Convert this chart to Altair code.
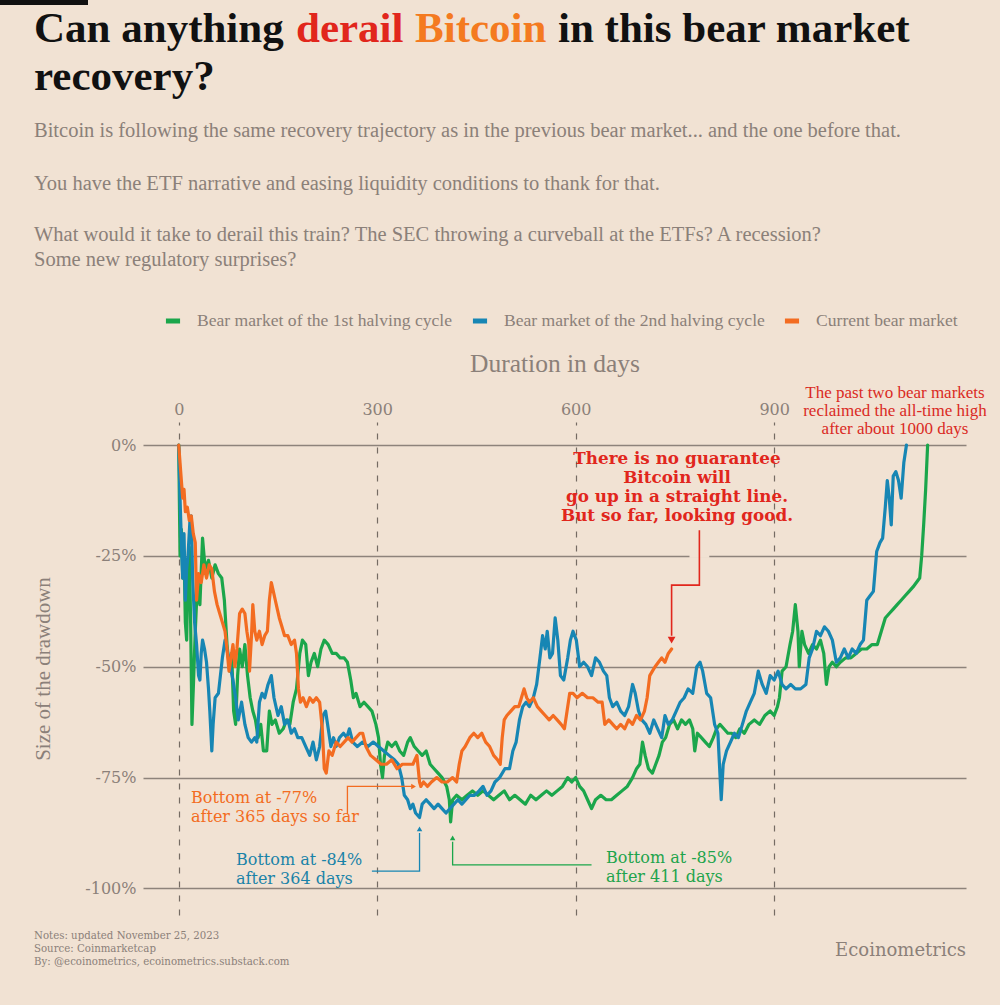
import altair as alt
import pandas as pd

# ---------------- data (days since the all-time high, drawdown in %) ----------------
series_names = [
    "Bear market of the 1st halving cycle",
    "Bear market of the 2nd halving cycle",
    "Current bear market",
]
series_colors = ["#1BA64B", "#1786B4", "#F36C21"]

green = [(0,0),(2,-25),(4,-19),(6,-30),(8,-24),(10,-40),(12,-44),(14,-28),(16,-23),(18,-40),(20,-63),(22,-55),(25,-42),(28,-32),(32,-36),(36,-21),(40,-28),(45,-26),(50,-30),(55,-27),(60,-29),(65,-30),(69,-35),(73,-45),(77,-51),(80,-47),(83,-60),(86,-63),(89,-52),(92,-46),(96,-50),(100,-45),(104,-52),(108,-57),(112,-60),(116,-62),(120,-66),(124,-63),(128,-69),(133,-69),(137,-60),(141,-63),(146,-62),(152,-65),(158,-64),(163,-62),(168,-63),(173,-58),(178,-55),(183,-47),(187,-44),(192,-45),(196,-52),(200,-49),(205,-47),(210,-50),(215,-46),(220,-44),(226,-45),(232,-47),(238,-47),(244,-48),(250,-48),(255,-49),(260,-53),(264,-57),(268,-56),(274,-59),(280,-58),(286,-59),(292,-60),(298,-63),(302,-66),(305,-72),(308,-75),(311,-70),(316,-67),(322,-68),(328,-67),(334,-69),(340,-70),(346,-67),(350,-66),(356,-68),(362,-69),(368,-70),(374,-69),(380,-72),(386,-73),(392,-74),(398,-75),(405,-77),(409,-80),(411,-85),(414,-80),(420,-79),(428,-80),(436,-79),(444,-78),(452,-79),(460,-78),(468,-79),(476,-80),(484,-79),(492,-78),(500,-80),(508,-79),(516,-80),(524,-81),(532,-79),(540,-80),(548,-79),(556,-78),(564,-79),(572,-78),(580,-77),(588,-75),(594,-76),(600,-75),(606,-77),(612,-78),(618,-80),(624,-82),(630,-80),(638,-79),(646,-80),(654,-80),(662,-79),(670,-78),(678,-77),(686,-75),(692,-73),(697,-72),(701,-67),(705,-70),(710,-73),(716,-74),(721,-72),(726,-70),(731,-67),(736,-66),(742,-63),(748,-62),(754,-64),(760,-62),(766,-63),(772,-62),(777,-64),(780,-69),(784,-65),(790,-66),(796,-67),(802,-68),(808,-66),(813,-64),(818,-63),(824,-64),(830,-65),(836,-65),(842,-66),(848,-64),(855,-65),(862,-63),(870,-62),(878,-63),(886,-61),(894,-60),(900,-61),(905,-59),(908,-57),(912,-51),(918,-50),(924,-45),(928,-42),(932,-36),(936,-42),(938,-50),(942,-42),(946,-45),(952,-47),(958,-45),(964,-46),(970,-44),(975,-47),(979,-54),(983,-50),(988,-49),(994,-50),(1000,-49),(1008,-48),(1016,-48),(1024,-47),(1032,-46),(1040,-46),(1048,-45),(1056,-45),(1062,-42),(1068,-39),(1074,-38),(1080,-37),(1086,-36),(1092,-35),(1098,-34),(1104,-33),(1110,-32),(1115,-31),(1120,-30),(1123,-25),(1126,-18),(1129,-10),(1132,0)]

blue = [(0,0),(2,-12),(4,-22),(6,-30),(8,-20),(10,-35),(12,-28),(14,-25),(17,-17),(19,-16),(21,-30),(24,-40),(27,-45),(30,-52),(32,-53),(34,-47),(36,-44),(39,-46),(42,-49),(45,-55),(47,-60),(50,-69),(52,-63),(55,-57),(60,-56),(66,-48),(70,-44),(74,-47),(78,-50),(82,-53),(86,-57),(90,-62),(95,-58),(100,-63),(105,-66),(110,-67),(115,-66),(118,-67),(122,-58),(126,-56),(130,-57),(135,-54),(140,-52),(144,-57),(150,-61),(155,-59),(160,-63),(165,-62),(170,-65),(175,-64),(180,-66),(186,-66),(192,-68),(198,-70),(203,-67),(208,-71),(213,-68),(218,-61),(222,-60),(226,-64),(230,-68),(234,-66),(238,-68),(243,-66),(249,-65),(254,-66),(258,-64),(263,-67),(270,-68),(278,-67),(286,-68),(294,-67),(302,-68),(310,-69),(318,-70),(326,-71),(332,-72),(337,-75),(341,-79),(346,-80),(350,-82),(354,-81),(358,-83),(364,-84),(368,-81),(374,-80),(380,-81),(386,-82),(392,-81),(398,-82),(404,-83),(410,-82),(416,-81),(422,-80),(428,-81),(434,-80),(440,-79),(447,-79),(454,-78),(460,-77),(466,-79),(472,-78),(478,-76),(485,-75),(493,-73),(500,-73),(505,-69),(510,-67),(515,-62),(520,-59),(525,-58),(530,-59),(536,-57),(541,-54),(546,-48),(550,-43),(554,-46),(557,-42),(561,-48),(565,-47),(569,-39),(573,-44),(577,-52),(582,-53),(588,-48),(592,-44),(596,-42),(601,-44),(606,-50),(612,-49),(618,-50),(624,-52),(630,-48),(636,-49),(642,-51),(647,-52),(651,-57),(656,-59),(662,-58),(668,-60),(674,-61),(680,-59),(686,-54),(690,-56),(695,-60),(700,-62),(706,-63),(712,-65),(718,-62),(724,-64),(730,-66),(735,-61),(740,-63),(746,-62),(752,-60),(758,-58),(764,-57),(770,-55),(777,-56),(783,-50),(788,-49),(792,-51),(798,-56),(804,-57),(810,-63),(815,-65),(820,-80),(823,-72),(828,-69),(834,-67),(840,-65),(846,-66),(852,-63),(858,-60),(864,-58),(870,-56),(876,-51),(882,-54),(888,-56),(894,-52),(900,-53),(906,-51),(912,-54),(918,-55),(925,-54),(932,-55),(940,-55),(948,-54),(953,-48),(958,-46),(964,-42),(970,-43),(976,-41),(982,-42),(988,-44),(994,-49),(1000,-48),(1006,-46),(1012,-48),(1018,-46),(1024,-47),(1030,-45),(1035,-44),(1040,-35),(1045,-34),(1050,-33),(1055,-24),(1060,-22),(1064,-21),(1068,-14),(1071,-8),(1074,-12),(1077,-18),(1080,-7),(1084,-6),(1088,-8),(1092,-12),(1096,-4),(1100,0)]

orange = [(0,0),(2,-4),(4,-8),(6,-12),(8,-10),(10,-15),(13,-14),(16,-17),(19,-16),(22,-20),(25,-22),(27,-35),(30,-29),(34,-31),(38,-27),(42,-30),(46,-27),(50,-28),(54,-33),(58,-36),(62,-38),(66,-40),(70,-42),(73,-46),(76,-51),(79,-48),(82,-45),(85,-50),(88,-46),(92,-38),(96,-37),(100,-38),(103,-42),(106,-45),(107,-51),(110,-43),(112,-36),(115,-42),(118,-44),(122,-42),(126,-45),(130,-43),(134,-42),(137,-35),(140,-31),(143,-33),(146,-35),(149,-37),(152,-39),(156,-41),(160,-43),(165,-43),(170,-45),(175,-44),(178,-47),(181,-55),(184,-58),(188,-57),(193,-59),(198,-57),(203,-58),(208,-57),(213,-58),(217,-64),(220,-73),(223,-74),(227,-69),(232,-70),(238,-67),(244,-68),(250,-67),(256,-66),(262,-67),(268,-66),(274,-65),(278,-65),(283,-68),(290,-70),(298,-71),(306,-72),(314,-72),(322,-71),(330,-73),(338,-72),(346,-72),(354,-72),(360,-70),(364,-76),(366,-77),(370,-76),(376,-77),(382,-76),(390,-75),(398,-76),(406,-76),(414,-75),(420,-76),(424,-72),(428,-69),(433,-68),(440,-66),(446,-65),(452,-66),(458,-65),(464,-67),(470,-68),(476,-70),(482,-71),(486,-72),(489,-66),(492,-62),(496,-61),(502,-60),(508,-59),(514,-59),(518,-57),(522,-55),(526,-57),(530,-58),(536,-57),(542,-59),(548,-60),(554,-61),(560,-62),(566,-61),(572,-62),(578,-63),(583,-64),(587,-60),(591,-56),(596,-56),(602,-57),(610,-56),(618,-57),(626,-57),(634,-58),(640,-58),(644,-63),(650,-62),(656,-63),(662,-64),(668,-63),(674,-64),(680,-62),(686,-63),(692,-61),(698,-62),(704,-60),(708,-57),(712,-52),(716,-51),(720,-50),(725,-49),(730,-48),(735,-49),(740,-47),(745,-46)]

x_ticks = [0, 300, 600, 900]
y_ticks = [0, -25, -50, -75, -100]

rows = []
for name, pts in zip(series_names, [green, blue, orange]):
    rows += [{"series": name, "day": d, "dd": v} for d, v in pts]
df = pd.DataFrame(rows)

# ---------------- layout ----------------
W, H = 823, 493
PL, PT = 143, 422          # plot origin on the page
BG = "#F1E2D3"
GRAY = "#8B8079"
RED = "#E1261C"
ORANGE_T = "#F47A20"

x_scale = alt.Scale(domain=[-54, 1190], nice=False, zero=False)
y_scale = alt.Scale(domain=[-106, 5.2], nice=False, zero=False)
color_scale = alt.Scale(domain=series_names, range=series_colors)

x_axis = alt.Axis(
    orient="top", values=x_ticks, format="d", title="Duration in days",
    titleFont="Liberation Serif", titleFontSize=25.5, titleFontWeight="normal",
    titleColor=GRAY, titleX=W / 2, titleY=363 - PT, titleAlign="center",
    titleBaseline="middle", labelFont="DejaVu Serif", labelFontSize=16,
    labelColor=GRAY, labelPadding=5, labelFlush=False, ticks=False,
    domain=False, grid=True, gridDash=[6, 8], gridColor="#756B63",
    gridWidth=1.2,
)
y_axis = alt.Axis(
    values=y_ticks, labelExpr="datum.value + '%'", title="Size of the drawdown",
    titleFont="Liberation Serif", titleFontSize=21, titleFontWeight="normal",
    titleColor=GRAY, titleAngle=270, titleX=43 - PL, titleY=H / 2,
    titleAlign="center", titleBaseline="middle", labelFont="DejaVu Serif",
    labelFontSize=16, labelColor=GRAY, labelPadding=7, ticks=False,
    domain=False, grid=True, gridColor="#8E837B", gridWidth=1.4,
)
legend = alt.Legend(
    orient="none", legendX=20, legendY=-111, direction="horizontal",
    title=None, symbolType="stroke", symbolStrokeWidth=5, symbolSize=200,
    labelFont="Liberation Serif", labelFontSize=17.6, labelColor=GRAY,
    columnPadding=9, labelOffset=14, labelLimit=400,
)


def X(field="day"):
    return alt.X(f"{field}:Q", scale=x_scale, axis=x_axis)


def Y(field="dd"):
    return alt.Y(f"{field}:Q", scale=y_scale, axis=y_axis)


def one():
    return alt.Data(values=[{"k": 0}])


def text(lines, x, y, size, color, font, weight="normal", align="left",
         baseline="alphabetic", lh=None):
    kw = dict(text=lines if len(lines) > 1 else lines[0], align=align,
              baseline=baseline, font=font, fontSize=size, fontWeight=weight,
              color=color)
    if lh:
        kw["lineHeight"] = lh
    return alt.Chart(one()).mark_text(**kw).encode(
        x=alt.value(x - PL), y=alt.value(y - PT))


layers = []

# black bar at top-left
layers.append(alt.Chart(one()).mark_rect(color="#111111").encode(
    x=alt.value(0 - PL), x2=alt.value(88 - PL),
    y=alt.value(0 - PT), y2=alt.value(5 - PT)))

# gap in the -25% gridline around the red arrow
halo = pd.DataFrame({"d1": [772], "d2": [802], "v": [-25]})
layers.append(alt.Chart(halo).mark_rule(color=BG, strokeWidth=4).encode(
    x=X("d1"), x2="d2:Q", y=Y("v")))

# the three drawdown lines
for name in series_names:
    layers.append(
        alt.Chart(df).transform_filter(alt.datum.series == name)
        .mark_line(strokeWidth=3.2, strokeJoin="round", strokeCap="round")
        .encode(x=X(), y=Y(),
                color=alt.Color("series:N", scale=color_scale, legend=legend),
                order="day:Q"))

# connectors (annotation leader lines), in data coordinates
def connector(days, vals, color, width=1.3):
    d = pd.DataFrame({"day": days, "dd": vals, "o": list(range(len(days)))})
    return alt.Chart(d).mark_line(color=color, strokeWidth=width).encode(
        x=X(), y=Y(), order="o:Q")


def head(day, val, shape, color, size=45):
    d = pd.DataFrame({"day": [day], "dd": [val]})
    return alt.Chart(d).mark_point(shape=shape, filled=True, opacity=1,
                                   color=color, size=size).encode(x=X(), y=Y())


layers += [
    connector([255, 255, 352], [-83.3, -77.0, -77.0], series_colors[2]),
    head(355, -77.0, "triangle-right", series_colors[2], 30),
    connector([292, 364, 364], [-96.1, -96.1, -87.5], series_colors[1]),
    head(364, -86.6, "triangle-up", series_colors[1], 30),
    connector([624, 414, 414], [-94.7, -94.7, -89.5], series_colors[0]),
    head(414, -88.6, "triangle-up", series_colors[0], 30),
    connector([787, 787, 745, 745], [-19.2, -31.6, -31.6, -43.0], RED, 1.6),
    head(745, -44.0, "triangle-down", RED, 60),
]

# title (coloured words), subtitle, notes, annotations
TF = "Liberation Serif"
TS = 43
layers += [
    text(["Can anything"], 34, 42, TS, "#111111", TF, "bold"),
    text(["derail"], 296, 42, TS, RED, TF, "bold"),
    text(["Bitcoin"], 415, 42, TS, ORANGE_T, TF, "bold"),
    text(["in this bear market"], 558, 42, TS, "#111111", TF, "bold"),
    text(["recovery?"], 34, 90, TS, "#111111", TF, "bold"),
    text(["Bitcoin is following the same recovery trajectory as in the previous bear market... and the one before that."],
         34, 131, 20.5, GRAY, TF, baseline="middle"),
    text(["You have the ETF narrative and easing liquidity conditions to thank for that."],
         34, 184, 20.5, GRAY, TF, baseline="middle"),
    text(["What would it take to derail this train? The SEC throwing a curveball at the ETFs? A recession?"],
         34, 235, 20.5, GRAY, TF, baseline="middle"),
    text(["Some new regulatory surprises?"], 34, 260, 20.5, GRAY, TF, baseline="middle"),
    text(["The past two bear markets", "reclaimed the all-time high", "after about 1000 days"],
         895, 398, 17, "#DA2A24", TF, align="center", lh=18),
    text(["There is no guarantee", "Bitcoin will", "go up in a straight line.", "But so far, looking good."],
         677, 464, 16.8, RED, "DejaVu Serif", "bold", align="center", lh=19),
    text(["Bottom at -77%", "after 365 days so far"], 191, 803, 16,
         series_colors[2], "DejaVu Serif", lh=19),
    text(["Bottom at -84%", "after 364 days"], 236, 865, 16,
         "#1A83A8", "DejaVu Serif", lh=19),
    text(["Bottom at -85%", "after 411 days"], 606, 863, 16,
         "#1EA44C", "DejaVu Serif", lh=19),
    text(["Notes: updated November 25, 2023", "Source: Coinmarketcap",
          "By: @ecoinometrics, ecoinometrics.substack.com"],
         34, 939, 10.2, GRAY, "DejaVu Serif", lh=13),
    text(["Ecoinometrics"], 966, 956, 18, GRAY, "DejaVu Serif", align="right"),
]

chart = alt.layer(*layers).properties(
    width=W, height=H,
    autosize=alt.AutoSizeParams(type="none"),
    padding={"left": PL, "top": PT, "right": 1000 - PL - W, "bottom": 1005 - PT - H},
    background=BG,
).configure_view(stroke=None)

chart.save("out.html", embed_options={"renderer": "svg", "actions": False})
